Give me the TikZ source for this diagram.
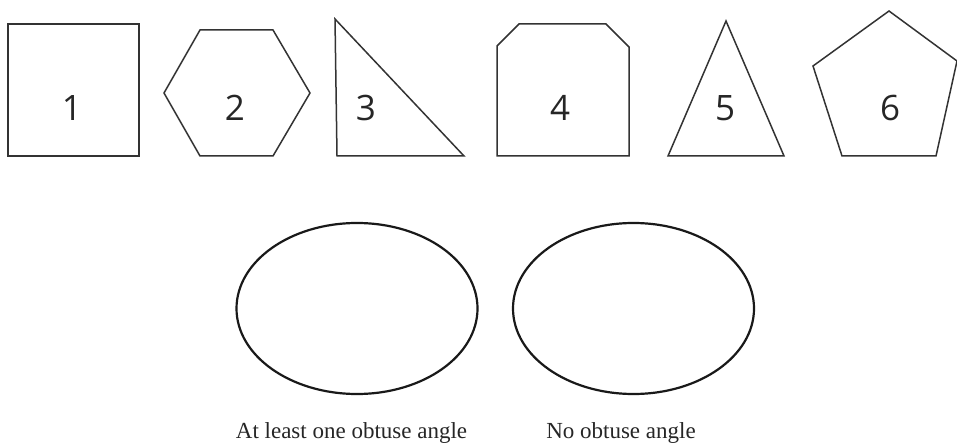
\documentclass[tikz,border=0pt]{standalone}
\usepackage{fontspec}
\setmainfont{Liberation Serif}
\newfontfamily\digitfont{Open Sans}
\begin{document}
\begin{tikzpicture}[x=1pt,y=-1pt,
  shapeline/.style={draw=black!80, line width=1.5pt, line join=miter},
  ovalline/.style={draw=black!90, line width=2.2pt},
  numlabel/.style={font=\digitfont\fontsize{35}{40}\selectfont, text=black!85, inner sep=0pt},
  captext/.style={font=\fontsize{23}{28}\selectfont, text=black!85, inner sep=0pt, anchor=base}]
\useasboundingbox (0,0) rectangle (957,443);
% shape 1: square
\draw[shapeline] (8,24) rectangle (139,156);
\node[numlabel] (n1) at (72,108) {1};
% shape 2: hexagon
\draw[shapeline] (200,30) -- (273,30) -- (310,93) -- (273,156) -- (200,156) -- (164,93) -- cycle;
\node[numlabel] (n2) at (235,108) {2};
% shape 3: right triangle
\draw[shapeline] (335,19) -- (337,156) -- (464,156) -- cycle;
\node[numlabel] (n3) at (366,108) {3};
% shape 4: chamfered square
\draw[shapeline] (519,24) -- (606,24) -- (629,47) -- (629,156) -- (497,156) -- (497,46) -- cycle;
\node[numlabel] (n4) at (560,108) {4};
% shape 5: acute triangle
\draw[shapeline] (726,21) -- (784,156) -- (668,156) -- cycle;
\node[numlabel] (n5) at (725,108) {5};
% shape 6: pentagon
\draw[shapeline] (889,11) -- (957,61) -- (936,156) -- (842,156) -- (813,66) -- cycle;
\node[numlabel] (n6) at (890,108) {6};
% ellipses
\draw[ovalline] (357,308.5) ellipse [x radius=120.5, y radius=85.5];
\draw[ovalline] (633.5,308.5) ellipse [x radius=120.5, y radius=85.5];
\node[captext] (c1) at (351.5,438) {At least one obtuse angle};
\node[captext] (c2) at (621,438) {No obtuse angle};
\end{tikzpicture}
\end{document}
